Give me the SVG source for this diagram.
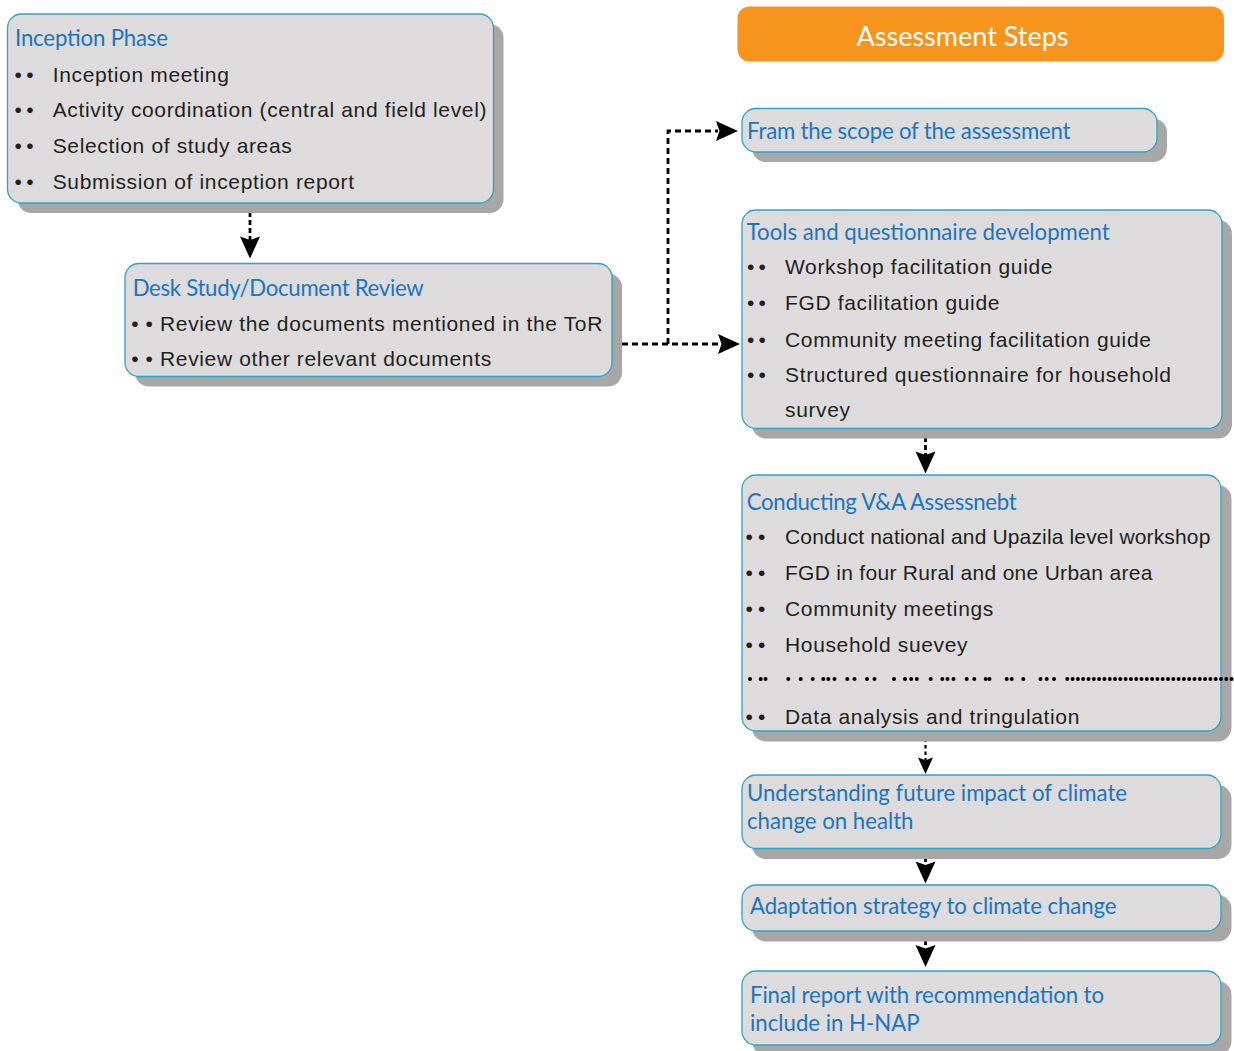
<svg xmlns="http://www.w3.org/2000/svg" xmlns:xlink="http://www.w3.org/1999/xlink" width="1234" height="1051" viewBox="0 0 1234 1051">
  <style>
    .shadow { fill: #a8a7a7; }
    .box { fill: #dddbdc; stroke: #2ea3c6; stroke-width: 1.3; }
    .title { font-family: Lato, "Open Sans", sans-serif; font-size: 22.2px; fill: #1c75bc; }
    .item { font-family: "Liberation Sans", Arial, sans-serif; font-size: 21px; letter-spacing: 0.65px; fill: #231f20; }
    .bullet { font-family: "Liberation Sans", Arial, sans-serif; font-size: 21px; fill: #231f20; }
    .dash { fill: none; stroke: #000; stroke-width: 2.8; stroke-dasharray: 6 4; }
    .dash-s { fill: none; stroke: #000; stroke-width: 2.8; stroke-dasharray: 5 3; }
    .dash-t { fill: none; stroke: #000; stroke-width: 2.2; stroke-dasharray: 3.5 3; }
    .head { fill: #000; }
    .dots { fill: #000; }
  </style>
  <defs>
    <!-- downward arrowhead, tip at the origin -->
    <path id="ah" d="M0,0 L-10,-22 L0,-18.5 L10,-22 Z"/>
  </defs>

  <rect width="1234" height="1051" fill="#ffffff"/>

  <!-- header banner -->
  <g id="header">
    <rect x="737.5" y="6.5" width="486.5" height="55" rx="12" fill="#f7941d"/>
    <text x="962.5" y="46" text-anchor="middle" font-family="Lato, 'Open Sans', sans-serif" font-size="27" fill="#ffffff">Assessment Steps</text>
  </g>

  <!-- connectors -->
  <g id="connectors">
    <line class="dash-s" x1="250" y1="204" x2="250" y2="240"/>
    <use xlink:href="#ah" class="head" transform="translate(250,258.5)"/>

    <path class="dash" d="M612,344 H720"/>
    <use xlink:href="#ah" class="head" transform="translate(740,344) rotate(-90)"/>
    <path class="dash" d="M668,344 V131 H718"/>
    <use xlink:href="#ah" class="head" transform="translate(738,131) rotate(-90)"/>

    <line class="dash-s" x1="925.5" y1="429" x2="925.5" y2="455"/>
    <use xlink:href="#ah" class="head" transform="translate(925.5,473.5)"/>

    <line class="dash-t" x1="925.5" y1="732" x2="925.5" y2="760"/>
    <use xlink:href="#ah" class="head" transform="translate(925.5,774) scale(0.75)"/>

    <line class="dash-s" x1="925.5" y1="849" x2="925.5" y2="864"/>
    <use xlink:href="#ah" class="head" transform="translate(925.5,883.5)"/>

    <line class="dash-s" x1="925.5" y1="932" x2="925.5" y2="947"/>
    <use xlink:href="#ah" class="head" transform="translate(925.5,967)"/>
  </g>

  <!-- Inception Phase -->
  <g id="inception">
    <rect class="shadow" x="17.5" y="24" width="486" height="189" rx="14"/>
    <rect class="box" x="7.5" y="14" width="486" height="189" rx="14"/>
    <text class="title" x="15" y="46" textLength="153" lengthAdjust="spacing">Inception Phase</text>
    <text class="bullet" x="14.6 26.3" y="81.5">••</text>
    <text class="item" x="52.7" y="81.5">Inception meeting</text>
    <text class="bullet" x="14.6 26.3" y="117">••</text>
    <text class="item" x="52.7" y="117">Activity coordination (central and field level)</text>
    <text class="bullet" x="14.6 26.3" y="152.5">••</text>
    <text class="item" x="52.7" y="152.5">Selection of study areas</text>
    <text class="bullet" x="14.6 26.3" y="188.5">••</text>
    <text class="item" x="52.7" y="188.5">Submission of inception report</text>
  </g>

  <!-- Desk Study -->
  <g id="desk-study">
    <rect class="shadow" x="135" y="273.5" width="487" height="113" rx="14"/>
    <rect class="box" x="125" y="263.5" width="487" height="113" rx="14"/>
    <text class="title" x="132.7" y="296" textLength="291" lengthAdjust="spacing">Desk Study/Document Review</text>
    <text class="bullet" x="131.3 145.6" y="330.5">••</text>
    <text class="item" x="160" y="330.5">Review the documents mentioned in the ToR</text>
    <text class="bullet" x="131.3 145.6" y="366">••</text>
    <text class="item" x="160" y="366">Review other relevant documents</text>
  </g>

  <!-- Fram the scope -->
  <g id="scope">
    <rect class="shadow" x="752" y="118.5" width="415" height="43.5" rx="14"/>
    <rect class="box" x="742" y="108.5" width="415" height="43.5" rx="14"/>
    <text class="title" x="747" y="138.5" textLength="323.5" lengthAdjust="spacing">Fram the scope of the assessment</text>
  </g>

  <!-- Tools and questionnaire development -->
  <g id="tools">
    <rect class="shadow" x="752" y="220" width="480" height="218.5" rx="14"/>
    <rect class="box" x="742" y="210" width="480" height="218.5" rx="14"/>
    <text class="title" x="746.7" y="239.5" textLength="363" lengthAdjust="spacing">Tools and questionnaire development</text>
    <text class="bullet" x="747 758.6" y="274">••</text>
    <text class="item" x="785" y="274">Workshop facilitation guide</text>
    <text class="bullet" x="747 758.6" y="310">••</text>
    <text class="item" x="785" y="310">FGD facilitation guide</text>
    <text class="bullet" x="747 758.6" y="346.5">••</text>
    <text class="item" x="785" y="346.5">Community meeting facilitation guide</text>
    <text class="bullet" x="747 758.6" y="382">••</text>
    <text class="item" x="785" y="382">Structured questionnaire for household</text>
    <text class="item" x="785" y="417">survey</text>
  </g>

  <!-- Conducting V&A assessment -->
  <g id="conducting">
    <rect class="shadow" x="752" y="485" width="479.5" height="256.5" rx="14"/>
    <rect class="box" x="742" y="475" width="479" height="256" rx="14"/>
    <text class="title" x="746.7" y="509.5" textLength="270" lengthAdjust="spacing">Conducting V&amp;A Assessnebt</text>
    <text class="bullet" x="745.6 758" y="544">••</text>
    <text class="item" x="785" y="544" textLength="426" lengthAdjust="spacing">Conduct national and Upazila level workshop</text>
    <text class="bullet" x="745.6 758" y="580">••</text>
    <text class="item" x="785" y="580" textLength="368" lengthAdjust="spacing">FGD in four Rural and one Urban area</text>
    <text class="bullet" x="745.6 758" y="616">••</text>
    <text class="item" x="785" y="616">Community meetings</text>
    <text class="bullet" x="745.6 758" y="652">••</text>
    <text class="item" x="785" y="652">Household suevey</text>
    <!-- row of dots -->
    <g class="dots">
      <circle cx="750" cy="679" r="2"/>
      <circle cx="760.7" cy="679" r="2"/>
      <circle cx="765.5" cy="679" r="2"/>
      <circle cx="788.3" cy="679" r="2"/>
      <circle cx="800.7" cy="679" r="2"/>
      <circle cx="812.7" cy="679" r="2"/>
      <circle cx="823.3" cy="679" r="2"/>
      <circle cx="828.3" cy="679" r="2"/>
      <circle cx="834.5" cy="679" r="2"/>
      <circle cx="847.3" cy="679" r="2"/>
      <circle cx="854.5" cy="679" r="2"/>
      <circle cx="867" cy="679" r="2"/>
      <circle cx="874.5" cy="679" r="2"/>
      <circle cx="894" cy="679" r="2"/>
      <circle cx="905" cy="679" r="2"/>
      <circle cx="911.2" cy="679" r="2"/>
      <circle cx="916.8" cy="679" r="2"/>
      <circle cx="930.7" cy="679" r="2"/>
      <circle cx="942.3" cy="679" r="2"/>
      <circle cx="947.5" cy="679" r="2"/>
      <circle cx="953.5" cy="679" r="2"/>
      <circle cx="966.7" cy="679" r="2"/>
      <circle cx="974.3" cy="679" r="2"/>
      <circle cx="985.7" cy="679" r="2"/>
      <circle cx="989.5" cy="679" r="2"/>
      <circle cx="1006.7" cy="679" r="2"/>
      <circle cx="1011.7" cy="679" r="2"/>
      <circle cx="1023.3" cy="679" r="2"/>
      <circle cx="1040.5" cy="679" r="2"/>
      <circle cx="1046.7" cy="679" r="2"/>
      <circle cx="1054" cy="679" r="2"/>
    </g>
    <line x1="1067.3" y1="679" x2="1234" y2="679" stroke="#000" stroke-width="4" stroke-linecap="round" stroke-dasharray="0 5.3"/>
    <text class="bullet" x="745.6 758" y="723.5">••</text>
    <text class="item" x="785" y="723.5">Data analysis and tringulation</text>
  </g>

  <!-- Understanding future impact -->
  <g id="future-impact">
    <rect class="shadow" x="752" y="785" width="479.5" height="74" rx="14"/>
    <rect class="box" x="742" y="775" width="479" height="73.5" rx="14"/>
    <text class="title" x="747" y="801" textLength="380" lengthAdjust="spacing">Understanding future impact of climate</text>
    <text class="title" x="747" y="829">change on health</text>
  </g>

  <!-- Adaptation strategy -->
  <g id="adaptation">
    <rect class="shadow" x="752" y="895" width="479.5" height="46.5" rx="14"/>
    <rect class="box" x="742" y="885" width="479" height="46" rx="14"/>
    <text class="title" x="750" y="913.5" textLength="366.5" lengthAdjust="spacing">Adaptation strategy to climate change</text>
  </g>

  <!-- Final report -->
  <g id="final-report">
    <rect class="shadow" x="752" y="981" width="479.5" height="74" rx="14"/>
    <rect class="box" x="742" y="971" width="479" height="74" rx="14"/>
    <text class="title" x="750" y="1003" textLength="354" lengthAdjust="spacing">Final report with recommendation to</text>
    <text class="title" x="750" y="1030.5">include in H-NAP</text>
  </g>
</svg>
